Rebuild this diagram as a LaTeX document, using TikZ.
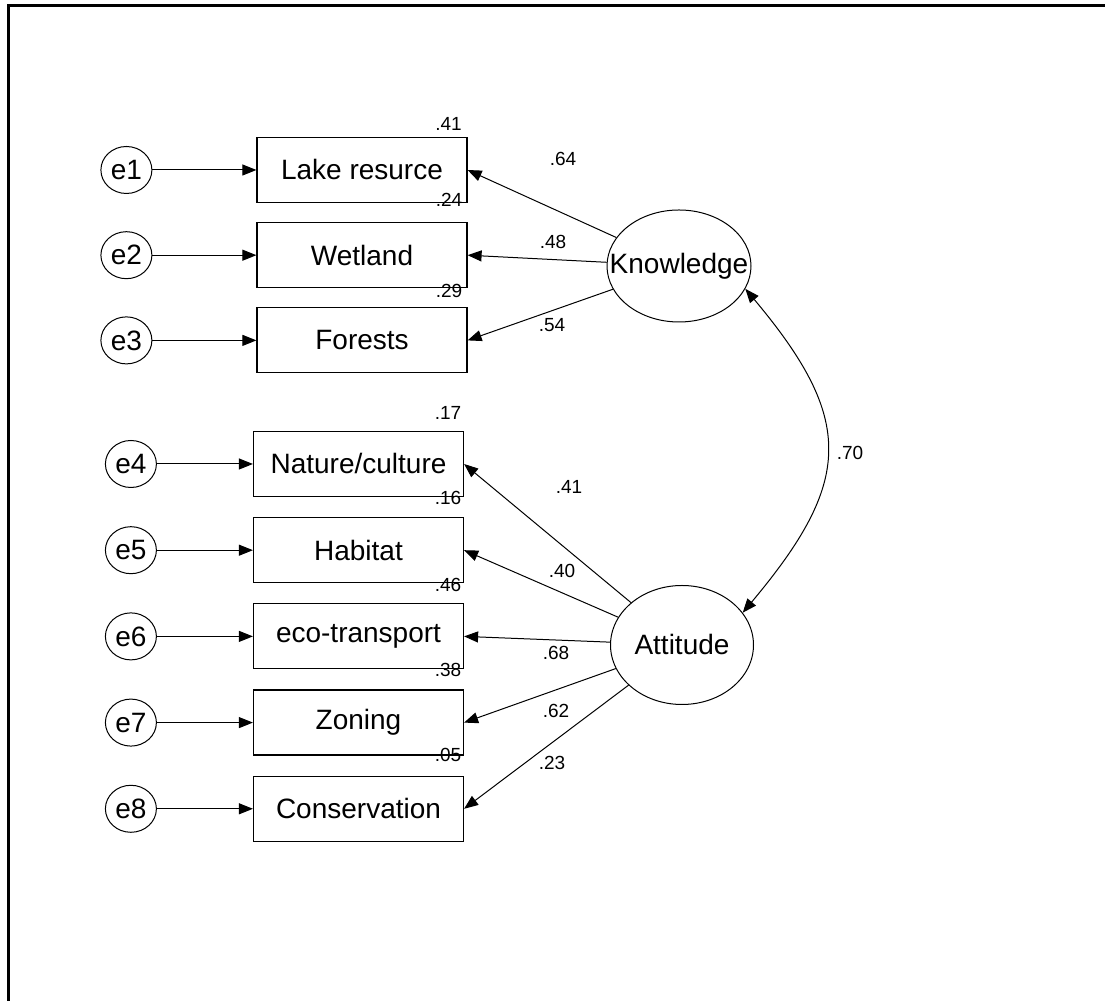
\documentclass[tikz,border=0pt]{standalone}
\usepackage{fontspec}
\setmainfont{Liberation Sans}
\usetikzlibrary{positioning,shapes.geometric,arrows.meta}

\begin{document}
\begin{tikzpicture}[
    x=0.5pt, y=0.5pt,
    font=\fontsize{14}{16}\selectfont,
    obs/.style={draw, line width=0.6pt, rectangle,
                minimum width=105pt, minimum height=32.5pt, inner sep=0pt},
    err/.style={draw, line width=0.5pt, ellipse,
                minimum width=25.5pt, minimum height=23.5pt, inner sep=0pt},
    lat/.style={draw, line width=0.5pt, ellipse, inner sep=0pt},
    load/.style={-{Triangle[length=7pt,width=5.5pt]}, line width=0.5pt},
    num/.style={font=\fontsize{9.5}{11}\selectfont, inner sep=0pt},
    node distance=9.5pt and 52pt,
  ]
    \useasboundingbox (0,0) rectangle (1105,1001);
    \draw[line width=1.5pt] (8,0) -- (8,995) -- (1105,995);

    % Knowledge indicators
    \node[obs] (lake) at (362,831) {Lake resurce};
    \node[obs, below=of lake] (wet) {Wetland};
    \node[obs, below=of wet] (forest) {Forests};
    \node[err, left=of lake] (e1) {e1};
    \node[err, left=of wet] (e2) {e2};
    \node[err, left=of forest] (e3) {e3};

    % Attitude indicators
    \node[obs] (nature) at (358.5,537) {Nature/culture};
    \node[obs, below=10pt of nature] (habitat) {Habitat};
    \node[obs, below=10pt of habitat] (eco) {eco-transport};
    \node[obs, below=10pt of eco] (zoning) {Zoning};
    \node[obs, below=10pt of zoning] (conserv) {Conservation};
    \node[err, left=48pt of nature] (e4) {e4};
    \node[err, left=48pt of habitat] (e5) {e5};
    \node[err, left=48pt of eco] (e6) {e6};
    \node[err, left=48pt of zoning] (e7) {e7};
    \node[err, left=48pt of conserv] (e8) {e8};

    % Latent variables
    \node[lat, minimum width=72pt, minimum height=56pt,
          label={[name=knowtxt]center:Knowledge}] (know) at (679,735) {};
    \node[lat, minimum width=71.5pt, minimum height=59.5pt,
          label={[name=atttxt]center:Attitude}] (att) at (682,356) {};

    % Error terms
    \draw[load] (e1) -- (lake);
    \draw[load] (e2) -- (wet);
    \draw[load] (e3) -- (forest);
    \draw[load] (e4) -- (nature);
    \draw[load] (e5) -- (habitat);
    \draw[load] (e6) -- (eco);
    \draw[load] (e7) -- (zoning);
    \draw[load] (e8) -- (conserv);

    % Loadings
    \draw[load] (know) -- (lake.east);
    \draw[load] (know) -- (wet.east);
    \draw[load] (know) -- (forest.east);
    \draw[load] (att) -- (nature.east);
    \draw[load] (att) -- (habitat.east);
    \draw[load] (att) -- (eco.east);
    \draw[load] (att) -- (zoning.east);
    \draw[load] (att) -- (conserv.east);

    % Correlation
    \draw[{Triangle[length=7pt,width=5.5pt]}-{Triangle[length=7pt,width=5.5pt]}, line width=0.5pt]
      (know.-19) to[out=-50, in=50, looseness=1.35] (att.28);
    \node[num] (rka) at (850,548) {.70};

    % Squared multiple correlations
    \node[num] (rlake) at (448.5,877) {.41};
    \node[num] (rwet) at (449,801) {.24};
    \node[num] (rforest) at (449,710) {.29};
    \node[num] (rnature) at (448,588) {.17};
    \node[num] (rhabitat) at (448,503) {.16};
    \node[num] (reco) at (448,416) {.46};
    \node[num] (rzoning) at (448,331) {.38};
    \node[num] (rconserv) at (448,246) {.05};

    % Loading weights
    \node[num] (wlake) at (563,842) {.64};
    \node[num] (wwet) at (553,759) {.48};
    \node[num] (wforest) at (552,676) {.54};
    \node[num] (wnature) at (569,514) {.41};
    \node[num] (whabitat) at (562,430) {.40};
    \node[num] (weco) at (556,348) {.68};
    \node[num] (wzoning) at (556,290) {.62};
    \node[num] (wconserv) at (552,238) {.23};
  \end{tikzpicture}
\end{document}
